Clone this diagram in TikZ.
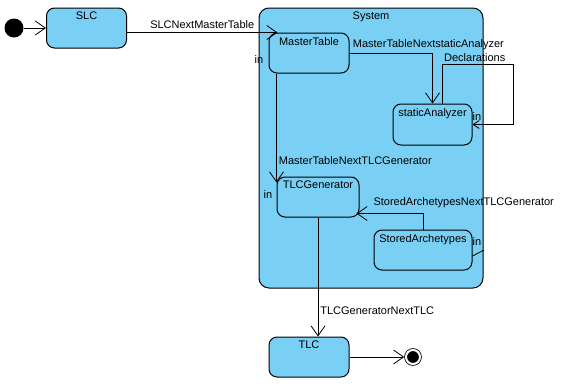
\documentclass[tikz,border=0pt]{standalone}
\usepackage{fontspec}
\setmainfont{Liberation Sans}
\usetikzlibrary{arrows.meta}
\definecolor{stateblue}{RGB}{122,207,245}
\begin{document}
\begin{tikzpicture}[
    x=1pt, y=-1pt,
    font=\fontsize{11}{13}\selectfont,
    state/.style={rectangle, rounded corners=8pt, draw=black, fill=stateblue, line width=1pt, minimum width=80pt, minimum height=40pt},
    title/.style={anchor=north, inner sep=4.5pt},
    arrow/.style={->, >={Straight Barb[length=10pt,width=14pt]}, line width=0.8pt},
    small arrow/.style={->, >={Straight Barb[length=6pt,width=8pt]}, line width=0.8pt}
]
    \useasboundingbox (0,0) rectangle (568,389);

    % Composite state
    \node[state, rounded corners=10pt, minimum width=224pt, minimum height=280pt, label={[title]north:System}] (system) at (371,148) {};

    % Nodes
    \node[circle, fill=black, minimum size=19pt, inner sep=0pt] (start) at (14,28) {};
    \node[state, label={[title]north:SLC}] (slc) at (86.5,28) {};
    \node[state, label={[title]north:MasterTable}] (mastertable) at (309,53) {};
    \node[state, minimum width=79pt, minimum height=41pt, label={[title]north:staticAnalyzer}] (staticanalyzer) at (432.5,124.5) {};
    \node[state, minimum width=82pt, label={[title]north:TLCGenerator}] (tlcgenerator) at (318,197) {};
    \node[state, minimum width=98pt, label={[title]north:StoredArchetypes}] (storedarchetypes) at (423,250) {};
    \node[state, label={[title]north:TLC}] (tlc) at (309,357) {};
    \node[circle, draw, fill=black, double, double distance=2pt, line width=0.8pt, minimum size=14pt, inner sep=0pt, outer sep=1.8pt] (stop) at (413,357) {};

    % Entry points
    \node (inmastertable) at (259,60) {in};
    \node (instatic) at (477,117) {in};
    \node (ingenerator) at (268,195) {in};
    \node (instored) at (477,242) {in};
    \coordinate (loopcorner) at (513,64);
    \coordinate (storedpin) at (484,250);

    % Transitions
    \draw[arrow] (start) -- (slc);
    \draw[arrow] (slc.east |- mastertable.north) -- node[above] {SLCNextMasterTable} ([xshift=9pt]mastertable.north west);
    \draw[arrow] (mastertable.east) -| node[pos=0, anchor=south west, inner sep=3pt] {MasterTableNextstaticAnalyzer} (staticanalyzer.north);
    \draw[small arrow] ([xshift=10pt]staticanalyzer.north) |- node[pos=0.75, above, inner sep=2pt, xshift=-3pt] {Declarations} (loopcorner) |- (staticanalyzer.east);
    \draw[arrow] (tlcgenerator.north west |- mastertable.south) -- node[pos=0.8, right, inner sep=2pt] {MasterTableNextTLCGenerator} ([yshift=-6pt]tlcgenerator.north west);
    \draw[arrow] (storedarchetypes.north) |- ([xshift=-3pt, yshift=4pt]tlcgenerator.south east);
    \node[anchor=west] (storedlabel) at (370,203) {StoredArchetypesNextTLCGenerator};
    \draw[line width=0.8pt] ([yshift=-6pt]storedarchetypes.east) -- (storedpin);
    \draw[arrow] (tlcgenerator.south) -- node[pos=0.78, right, inner sep=2pt] {TLCGeneratorNextTLC} (tlcgenerator.south |- tlc.north);
    \draw[arrow] (tlc) -- (stop);
\end{tikzpicture}
\end{document}
